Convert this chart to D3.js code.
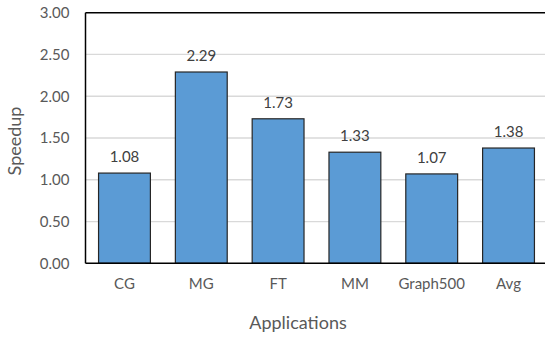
<!DOCTYPE html>
<html>
<head>
<meta charset="utf-8">
<script src="https://cdn.jsdelivr.net/npm/d3@7"></script>
<style>
  html, body { margin: 0; padding: 0; background: #fff; }
  svg { display: block; font-family: Lato, "Open Sans", sans-serif; }
</style>
</head>
<body>
<svg id="chart" width="545" height="337"></svg>
<script>
// Speedup per application
const categories = ["CG", "MG", "FT", "MM", "Graph500", "Avg"];
const speedup = [1.08, 2.29, 1.73, 1.33, 1.07, 1.38];
const yTicks = [0, 0.5, 1.0, 1.5, 2.0, 2.5, 3.0];

const svg = d3.select("#chart");
const margin = { left: 85.5, top: 12.7, right: 547.5, bottom: 263.3 };

const x = d3.scaleBand()
  .domain(categories)
  .range([margin.left, margin.right])
  .paddingInner(0.325)
  .paddingOuter(0.17);

const y = d3.scaleLinear().domain([0, 3]).range([margin.bottom, margin.top]);

// horizontal gridlines
svg.append("g")
  .selectAll("line")
  .data(yTicks.slice(1, -1))
  .join("line")
  .attr("x1", margin.left).attr("x2", 545)
  .attr("y1", d => y(d)).attr("y2", d => y(d))
  .attr("stroke", "#d9d9d9").attr("stroke-width", 1.3);

// bars
svg.append("g")
  .selectAll("rect")
  .data(speedup)
  .join("rect")
  .attr("x", (d, i) => x(categories[i]))
  .attr("y", d => y(d))
  .attr("width", x.bandwidth())
  .attr("height", d => y(0) - y(d))
  .attr("fill", "#5b9bd5")
  .attr("stroke", "#262626")
  .attr("stroke-width", 1.2);

// value labels
svg.append("g")
  .selectAll("text")
  .data(speedup)
  .join("text")
  .attr("x", (d, i) => x(categories[i]) + x.bandwidth() / 2)
  .attr("y", d => y(d) - 11)
  .attr("text-anchor", "middle")
  .attr("font-size", 15)
  .attr("fill", "#404040")
  .text(d => d.toFixed(2));

// frame: left, top, bottom
svg.append("line")
  .attr("x1", margin.left).attr("x2", margin.left)
  .attr("y1", margin.top).attr("y2", margin.bottom)
  .attr("stroke", "#000").attr("stroke-width", 1.5);
svg.append("line")
  .attr("x1", margin.left).attr("x2", 545)
  .attr("y1", margin.top).attr("y2", margin.top)
  .attr("stroke", "#000").attr("stroke-width", 1.5);
svg.append("line")
  .attr("x1", margin.left).attr("x2", 545)
  .attr("y1", margin.bottom).attr("y2", margin.bottom)
  .attr("stroke", "#000").attr("stroke-width", 1.5);

// y axis labels
const yAxis = d3.axisLeft(y).tickValues(yTicks).tickFormat(d3.format(".2f")).tickSize(0).tickPadding(16);
const gy = svg.append("g").attr("transform", `translate(${margin.left},0)`).call(yAxis);
gy.select(".domain").remove();
gy.selectAll("text").attr("font-size", 15).attr("fill", "#595959").attr("font-family", "Lato, sans-serif");

// x axis labels
const xAxis = d3.axisBottom(x).tickSize(0).tickPadding(15);
const gx = svg.append("g").attr("transform", `translate(0,${margin.bottom})`).call(xAxis);
gx.select(".domain").remove();
gx.selectAll("text").attr("font-size", 15).attr("fill", "#595959").attr("font-family", "Lato, sans-serif");

// axis titles
svg.append("text")
  .attr("x", 298).attr("y", 329)
  .attr("text-anchor", "middle")
  .attr("font-size", 18).attr("fill", "#595959")
  .text("Applications");

svg.append("text")
  .attr("transform", "translate(21,141) rotate(-90)")
  .attr("text-anchor", "middle")
  .attr("font-size", 18).attr("fill", "#595959")
  .text("Speedup");
</script>
</body>
</html>
